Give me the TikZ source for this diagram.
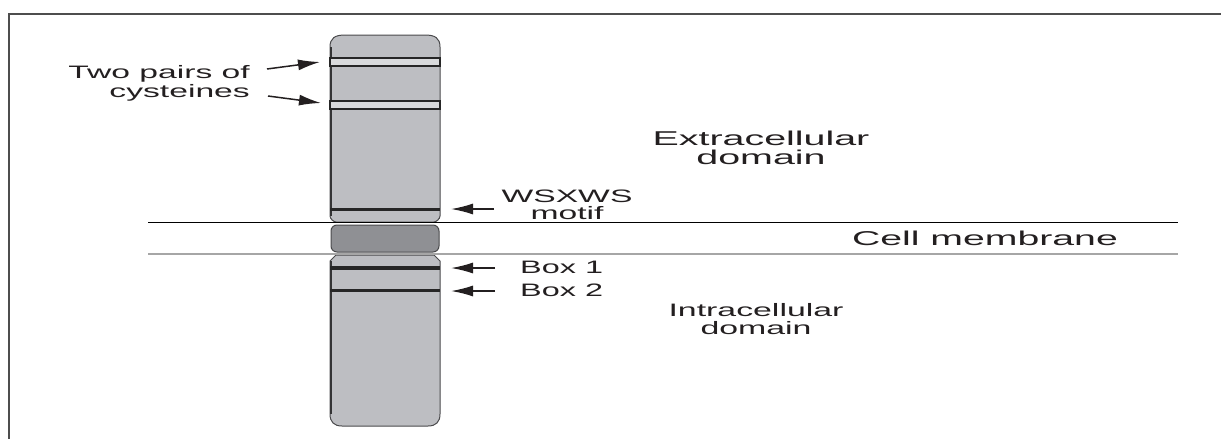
\documentclass[tikz,border=0pt]{standalone}
\usepackage{fontspec}
\setmainfont{Liberation Sans}
\usetikzlibrary{arrows.meta}
\definecolor{colfill}{HTML}{BDBEC2}
\definecolor{memfill}{HTML}{8F9094}
\definecolor{bandpale}{HTML}{D9DADC}
\definecolor{edgec}{HTML}{4A4A4C}
\definecolor{textc}{HTML}{231F20}
\definecolor{frame}{HTML}{4D4D4D}
\newcommand\strx[2]{\scalebox{#1}[1]{#2}}
\tikzset{
  txt/.style={inner sep=0pt, text=textc, font=\fontsize{18}{18}\selectfont},
  bigtxt/.style={inner sep=0pt, text=textc, font=\fontsize{20}{20}\selectfont},
  segment/.style={fill=colfill, draw=edgec, line width=1pt},
  pointer/.style={-{Latex[length=22pt,width=11pt]}, line width=1.5pt, draw=textc},
  thickband/.style={line width=#1, draw=black!85}
}
\begin{document}
\begin{tikzpicture}[x=1pt,y=-1pt]
\useasboundingbox (0,0) rectangle (1221,439);
% frame
\draw[frame, line width=2pt] (9,440) -- (9,14) -- (1222,14);
% upper segment
\draw[segment] (330,216) -- (330,47) .. controls (330,38) and (335,35) .. (345,35)
  -- (425,35) .. controls (435,35) and (440,38) .. (440,47) -- (440,216)
  .. controls (440,219) and (436,222) .. (434,222) -- (336,222)
  .. controls (334,222) and (330,219) .. (330,216) -- cycle;
\draw[edgec!70!black, line width=2pt] (330.5,216) -- (330.5,47);
% cysteine bands
\draw[fill=bandpale, draw=black!85, line width=1.2pt] (330,58) rectangle (440,66);
\draw[fill=bandpale, draw=black!85, line width=1.2pt] (330,101) rectangle (440,109);
% WSXWS band
\draw[thickband=3pt] (330,209) -- (440,209);
% membrane segment
\draw[fill=memfill, draw=edgec, line width=1pt, rounded corners=6pt] (331,225) rectangle (439,252);
% lower segment
\draw[segment] (336,255) -- (434,255) -- (440,261) -- (440,414)
  .. controls (440,422) and (436,426) .. (428,426) -- (342,426)
  .. controls (334,426) and (330,422) .. (330,414) -- (330,261) -- cycle;
\draw[edgec!70!black, line width=2pt] (330.5,261) -- (330.5,414);
\draw[thickband=4pt] (330,268) -- (440,268);
\draw[thickband=3pt] (330,290) -- (440,290);
% membrane lines
\draw[black, line width=1.2pt] (148,222.5) -- (1178,222.5);
\draw[black!35, line width=2pt] (148,254) -- (1178,254);
% labels
\node[txt, anchor=base east] (tp) at (250,78) {\strx{1.87}{Two pairs of}};
\node[txt, anchor=base east] (cy) at (250,97) {\strx{1.87}{cysteines}};
\node[txt, anchor=base] (ws) at (567,202) {\strx{1.87}{WSXWS}};
\node[txt, anchor=base] (mo) at (567,219) {\strx{1.87}{motif}};
\node[bigtxt, anchor=base] (ex) at (761,145) {\strx{1.97}{Extracellular}};
\node[bigtxt, anchor=base] (dm) at (761,164) {\strx{1.97}{domain}};
\node[bigtxt, anchor=base] (cm) at (985,245) {\strx{1.96}{Cell membrane}};
\node[txt, anchor=base west] (b1) at (520,273) {\strx{1.80}{Box 1}};
\node[txt, anchor=base west] (b2) at (520,296) {\strx{1.80}{Box 2}};
\node[txt, anchor=base] (ic) at (756,316) {\strx{1.88}{Intracellular}};
\node[txt, anchor=base] (id) at (756,334) {\strx{1.88}{domain}};
% arrow end points
\coordinate (a1s) at (267,69);  \coordinate (a1e) at (320,62);
\coordinate (a2s) at (268,96);  \coordinate (a2e) at (321,103);
\coordinate (a3s) at (494,209); \coordinate (a3e) at (451,209);
\coordinate (a4s) at (495,268); \coordinate (a4e) at (451,268);
\coordinate (a5s) at (495,291); \coordinate (a5e) at (451,291);
\draw[pointer] (a1s) -- (a1e);
\draw[pointer] (a2s) -- (a2e);
\draw[pointer] (a3s) -- (a3e);
\draw[pointer] (a4s) -- (a4e);
\draw[pointer] (a5s) -- (a5e);
\end{tikzpicture}
\end{document}
